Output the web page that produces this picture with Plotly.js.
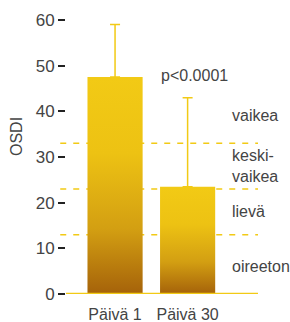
<!DOCTYPE html>
<html><head><meta charset="utf-8">
<script src="https://cdn.plot.ly/plotly-3.0.1.min.js"></script>
<style>html,body{margin:0;padding:0;background:#fff}#chart{width:290px;height:322px}</style>
</head><body><div id="chart"></div>
<script>
var categories = ["Päivä 1", "Päivä 30"];
var means = [47.5, 23.5];
var sdUpper = [11.5, 19.5];
var thresholds = [13, 23, 33];
var severityLabels = ["oireeton", "lievä", "keski-<br>vaikea", "vaikea"];
var severityY = [6.1, 18, 28.0, 39];
var pText = "p<0.0001";
var yTicks = [0, 10, 20, 30, 40, 50, 60];

var fam = "Liberation Sans, Helvetica, Arial, sans-serif";
var font = {family: fam, size: 17, color: "#444"};
var yellow = "#F2CA15";

var trace = {
  type: "bar", x: [0, 1], y: means, width: 0.76,
  marker: {color: "#E0AE12", line: {width: 0}},
  error_y: {type: "data", symmetric: false, array: sdUpper, arrayminus: [0, 0], color: yellow, thickness: 1.5, width: 5},
  hoverinfo: "none"
};

var shapes = thresholds.map(function (t) {
  return {type: "line", xref: "paper", yref: "y", x0: -0.03, x1: 1, y0: t, y1: t,
    line: {color: yellow, width: 1.5, dash: "6px,7px"}, layer: "below"};
});
shapes.push({type: "line", xref: "paper", yref: "y", x0: 0, x1: 1, y0: 0, y1: 0,
  line: {color: yellow, width: 2.5}, layer: "above"});

var annotations = severityLabels.map(function (s, i) {
  return {xref: "paper", yref: "y", x: 0.854, y: severityY[i], text: s, showarrow: false,
    xanchor: "left", yanchor: "middle", align: "left", font: {family: fam, size: 16, color: "#444"}};
});
annotations.push({xref: "x", yref: "y", x: 1.09, y: 47.8, text: pText, showarrow: false,
  xanchor: "center", yanchor: "middle", font: {family: fam, size: 16, color: "#444"}});
annotations.push({xref: "paper", yref: "paper", x: -0.255, y: 0.573, text: "OSDI", textangle: -90,
  showarrow: false, xanchor: "center", yanchor: "middle", font: {family: fam, size: 16, color: "#444"}});

var layout = {
  width: 290, height: 322,
  margin: {l: 66, r: 32, t: 20, b: 28, pad: 0},
  paper_bgcolor: "#fff", plot_bgcolor: "#fff",
  font: font, showlegend: false,
  xaxis: {range: [-0.676, 1.97], tickvals: [0, 1], ticktext: categories, showgrid: false,
    zeroline: false, showline: false, ticks: "", ticklabelstandoff: 9, fixedrange: true,
    tickfont: {family: fam, size: 16, color: "#444"}},
  yaxis: {range: [0, 60], tickvals: yTicks, showgrid: false, zeroline: false, showline: false,
    ticks: "outside", ticklen: 7, tickwidth: 2, tickcolor: "#222", ticklabelstandoff: 0, fixedrange: true},
  shapes: shapes, annotations: annotations
};

Plotly.newPlot("chart", [trace], layout, {staticPlot: true, displayModeBar: false}).then(function (gd) {
  var svg = gd.querySelector("svg.main-svg");
  var ns = "http://www.w3.org/2000/svg";
  var defs = svg.querySelector("defs") || svg.insertBefore(document.createElementNS(ns, "defs"), svg.firstChild);
  var g = document.createElementNS(ns, "linearGradient");
  g.setAttribute("id", "barGrad");
  g.setAttribute("x1", "0"); g.setAttribute("y1", "0"); g.setAttribute("x2", "0"); g.setAttribute("y2", "1");
  [["0", "#F2CA15"], ["0.35", "#EDC213"], ["0.7", "#D39F12"], ["1", "#A5620A"]].forEach(function (s) {
    var st = document.createElementNS(ns, "stop");
    st.setAttribute("offset", s[0]); st.setAttribute("stop-color", s[1]);
    g.appendChild(st);
  });
  defs.appendChild(g);
  gd.querySelectorAll(".trace.bars .point path").forEach(function (p) {
    p.style.fill = "url(#barGrad)";
  });
});
</script></body></html>
